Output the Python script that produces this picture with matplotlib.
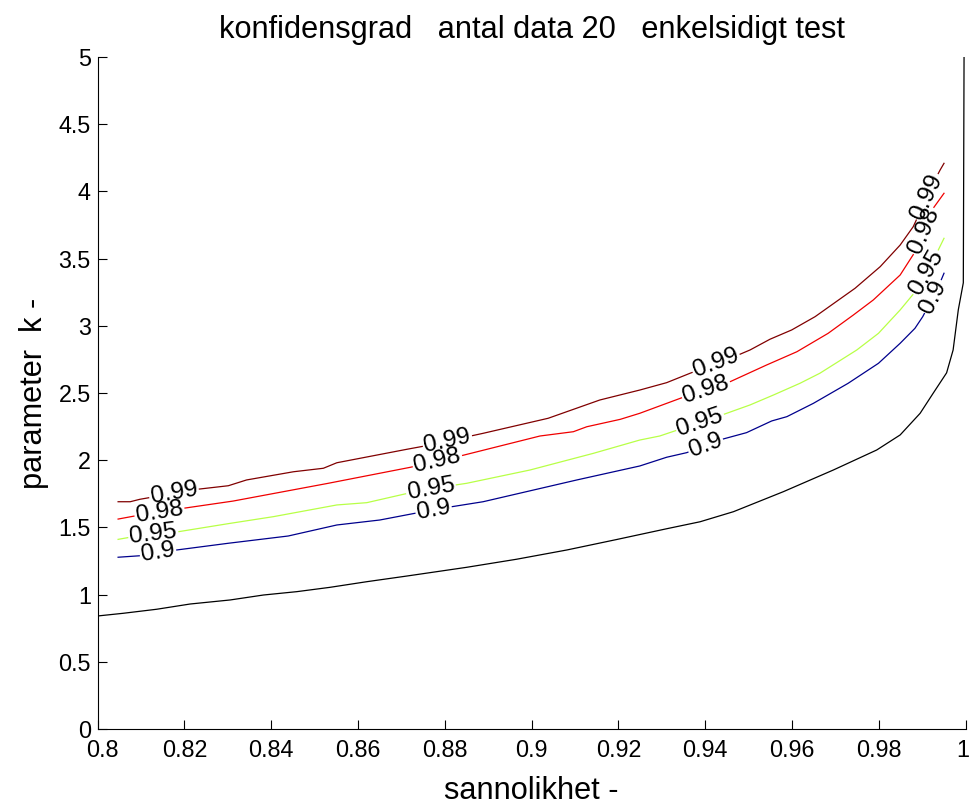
import numpy as np
import matplotlib
matplotlib.use("Agg")
import matplotlib.pyplot as plt
from matplotlib import font_manager
from matplotlib.font_manager import FontProperties
from matplotlib.transforms import ScaledTranslation

# ---------------- data ----------------
p_black = [0.8000, 0.8059, 0.8136, 0.8213, 0.8305, 0.8382, 0.8459, 0.8535, 0.8620, 0.8712,
           0.8850, 0.8965, 0.9081, 0.9196, 0.9311, 0.9388, 0.9465, 0.9580, 0.9695, 0.9795,
           0.9849, 0.9895, 0.9925, 0.9956, 0.9971, 0.9983, 0.99945, 0.99962]
k_black = [0.841, 0.861, 0.891, 0.930, 0.960, 0.997, 1.022, 1.054, 1.096, 1.138,
           1.203, 1.263, 1.332, 1.410, 1.490, 1.542, 1.617, 1.766, 1.927, 2.076,
           2.188, 2.349, 2.498, 2.650, 2.820, 3.120, 3.320, 5.000]

p_90 = [0.8047, 0.8097, 0.8182, 0.8301, 0.8439, 0.8551, 0.8650, 0.8731, 0.8816, 0.8888,
        0.9004, 0.9104, 0.9249, 0.9311, 0.9357, 0.9438, 0.9495, 0.9553, 0.9588, 0.9649,
        0.9729, 0.9799, 0.9849, 0.9883, 0.9901, 0.9937, 0.9950]
k_90 = [1.278, 1.289, 1.332, 1.382, 1.436, 1.518, 1.555, 1.605, 1.654, 1.691,
        1.778, 1.853, 1.957, 2.022, 2.056, 2.155, 2.205, 2.292, 2.324, 2.423,
        2.572, 2.721, 2.870, 2.981, 3.068, 3.291, 3.391]

p_95 = [0.8047, 0.8082, 0.8186, 0.8305, 0.8405, 0.8551, 0.8620, 0.8708, 0.8823, 0.8850,
        0.8996, 0.9142, 0.9249, 0.9295, 0.9341, 0.9438, 0.9503, 0.9557, 0.9618, 0.9664,
        0.9749, 0.9799, 0.9849, 0.9887, 0.9933, 0.9950]
k_95 = [1.411, 1.431, 1.468, 1.530, 1.580, 1.667, 1.684, 1.749, 1.815, 1.828,
        1.927, 2.051, 2.150, 2.180, 2.230, 2.336, 2.411, 2.485, 2.572, 2.647,
        2.820, 2.944, 3.118, 3.266, 3.539, 3.651]

p_98 = [0.8047, 0.8097, 0.8197, 0.8312, 0.8531, 0.8720, 0.8835, 0.9019, 0.9096, 0.9127,
        0.9204, 0.9249, 0.9352, 0.9449, 0.9541, 0.9611, 0.9683, 0.9741, 0.9787, 0.9849,
        0.9887, 0.9925, 0.9950]
k_98 = [1.562, 1.592, 1.642, 1.696, 1.828, 1.947, 2.031, 2.180, 2.212, 2.249,
        2.304, 2.349, 2.472, 2.572, 2.708, 2.807, 2.944, 3.080, 3.192, 3.378,
        3.569, 3.874, 3.986]

p_99 = [0.8047, 0.8075, 0.8097, 0.8228, 0.8301, 0.8343, 0.8451, 0.8520, 0.8551, 0.8712,
        0.8754, 0.8888, 0.9038, 0.9157, 0.9249, 0.9311, 0.9365, 0.9476, 0.9503, 0.9549,
        0.9599, 0.9653, 0.9745, 0.9803, 0.9849, 0.9879, 0.9929, 0.9941, 0.9950]
k_99 = [1.691, 1.691, 1.709, 1.783, 1.810, 1.853, 1.914, 1.940, 1.981, 2.081,
        2.106, 2.200, 2.312, 2.448, 2.522, 2.577, 2.647, 2.783, 2.820, 2.900,
        2.969, 3.068, 3.279, 3.440, 3.601, 3.737, 4.085, 4.159, 4.209]

level_names = ["0.9", "0.95", "0.98", "0.99"]

title_text = "konfidensgrad   antal data 20   enkelsidigt test"
xlabel_text = "sannolikhet -"
ylabel_text = "parameter  k -"
x_ticks = [0.8, 0.82, 0.84, 0.86, 0.88, 0.9, 0.92, 0.94, 0.96, 0.98, 1.0]
x_ticklabels = ["0.8", "0.82", "0.84", "0.86", "0.88", "0.9", "0.92", "0.94", "0.96", "0.98", "1"]
y_ticks = [0, 0.5, 1, 1.5, 2, 2.5, 3, 3.5, 4, 4.5, 5]
y_ticklabels = ["0", "0.5", "1", "1.5", "2", "2.5", "3", "3.5", "4", "4.5", "5"]

# ---------------- styling ----------------
names = {f.name for f in font_manager.fontManager.ttflist}
FONT = None
for cand in ("Liberation Sans Narrow", "Arial Narrow", "Nimbus Sans Narrow"):
    if cand in names:
        FONT = cand
        break
if FONT is None:
    FONT = "Liberation Sans" if "Liberation Sans" in names else "DejaVu Sans"
    SC = 0.82
else:
    SC = 1.0
plt.rcParams["font.family"] = [FONT, "DejaVu Sans"]

TITLE_FS = 27 * SC
AXLAB_FS = 27 * SC
TICK_FS = 20.5 * SC
LABEL_FS = 21.5 * SC

colors = {"0.9": (0.0, 0.0, 0.55), "0.95": (0.72, 1.0, 0.28),
          "0.98": (0.94, 0.0, 0.0), "0.99": (0.5, 0.0, 0.0)}
series = {"0.9": (p_90, k_90), "0.95": (p_95, k_95),
          "0.98": (p_98, k_98), "0.99": (p_99, k_99)}

# label anchor points (approximate centre of each inline label)
label_spots = {
    "0.99": [(0.8176, 1.75), (0.8806, 2.14), (0.9425, 2.72), (0.9918, 3.95)],
    "0.98": [(0.8142, 1.62), (0.8783, 1.99), (0.9402, 2.52), (0.9907, 3.70)],
    "0.95": [(0.8128, 1.45), (0.8768, 1.78), (0.9388, 2.28), (0.9912, 3.39)],
    "0.9":  [(0.8139, 1.31), (0.8774, 1.63), (0.9402, 2.10), (0.9923, 3.22)],
}

W, H = 974, 805
fig = plt.figure(figsize=(W / 100, H / 100), dpi=100)
ax = fig.add_axes([97.7 / W, (H - 729) / H, (965.7 - 97.7) / W, (729 - 57) / H])
ax.set_xlim(0.8, 1.0)
ax.set_ylim(0, 5)
for s in ("top", "right"):
    ax.spines[s].set_visible(False)
for s in ("left", "bottom"):
    ax.spines[s].set_linewidth(0.8)
ax.set_xticks(x_ticks)
ax.set_xticklabels(x_ticklabels)
ax.set_yticks(y_ticks)
ax.set_yticklabels(y_ticklabels)
ax.tick_params(direction="in", length=6.5, width=0.8, labelsize=TICK_FS, pad=5)
ax.tick_params(axis="x", pad=7)
# MATLAB nudges the end labels inward a little
xl = ax.get_xticklabels()
xl[0].set_transform(xl[0].get_transform() + ScaledTranslation(5 / 100, 0, fig.dpi_scale_trans))
xl[-1].set_transform(xl[-1].get_transform() + ScaledTranslation(-3 / 100, 0, fig.dpi_scale_trans))
ax.set_title(title_text, fontsize=TITLE_FS, pad=14)
ax.set_xlabel(xlabel_text, fontsize=AXLAB_FS)
ax.set_ylabel(ylabel_text, fontsize=AXLAB_FS)
ax.xaxis.set_label_coords(0.5, (729 - 799) / 672)
ax.xaxis.label.set_va("baseline")
ax.yaxis.set_label_coords((42 - 97.7) / 868, 0.5)
ax.yaxis.label.set_va("baseline")

# black reference curve
ax.plot(p_black, k_black, color="black", lw=0.9)

renderer = fig.canvas.get_renderer()
fp = FontProperties(family=[FONT, "DejaVu Sans"], size=LABEL_FS)
inv = ax.transData.inverted()

for name in level_names:
    px, ky = series[name]
    D = ax.transData.transform(np.column_stack([px, ky]))
    seg = np.diff(D, axis=0)
    seglen = np.hypot(seg[:, 0], seg[:, 1])
    s = np.concatenate([[0], np.cumsum(seglen)])
    wpx, hpx, _ = renderer.get_text_width_height_descent(name, fp, ismath=False)
    gaps = []
    for (lx, ly) in label_spots[name]:
        T = ax.transData.transform((lx, ly))
        best = None
        for i in range(len(seg)):
            L2 = seglen[i] ** 2
            t = 0 if L2 == 0 else np.clip(np.dot(T - D[i], seg[i]) / L2, 0, 1)
            P = D[i] + t * seg[i]
            d = np.hypot(*(T - P))
            if best is None or d < best[0]:
                best = (d, s[i] + t * seglen[i])
        s0 = best[1]
        half = wpx / 2 + 2
        a, b = max(s0 - half, 0), min(s0 + half, s[-1])
        gaps.append((a, b))
        pa = np.array([np.interp(a, s, D[:, 0]), np.interp(a, s, D[:, 1])])
        pb = np.array([np.interp(b, s, D[:, 0]), np.interp(b, s, D[:, 1])])
        ang = np.degrees(np.arctan2(pb[1] - pa[1], pb[0] - pa[0]))
        if ang > 90:
            ang -= 180
        if ang < -90:
            ang += 180
        pc = np.array([np.interp(s0, s, D[:, 0]), np.interp(s0, s, D[:, 1])])
        cx, cy = inv.transform(pc)
        ax.text(cx, cy, name, fontsize=LABEL_FS, rotation=ang, rotation_mode="anchor",
                ha="center", va="center", color="black")
    gaps.sort()
    keep = []
    cur = 0.0
    for a, b in gaps:
        if a > cur:
            keep.append((cur, a))
        cur = max(cur, b)
    if cur < s[-1]:
        keep.append((cur, s[-1]))
    for u, v in keep:
        idx = np.where((s > u) & (s < v))[0]
        pts = [(np.interp(u, s, D[:, 0]), np.interp(u, s, D[:, 1]))]
        pts += [tuple(D[i]) for i in idx]
        pts.append((np.interp(v, s, D[:, 0]), np.interp(v, s, D[:, 1])))
        dd = inv.transform(np.array(pts))
        ax.plot(dd[:, 0], dd[:, 1], color=colors[name], lw=0.9)

fig.savefig("out.png", dpi=100)
